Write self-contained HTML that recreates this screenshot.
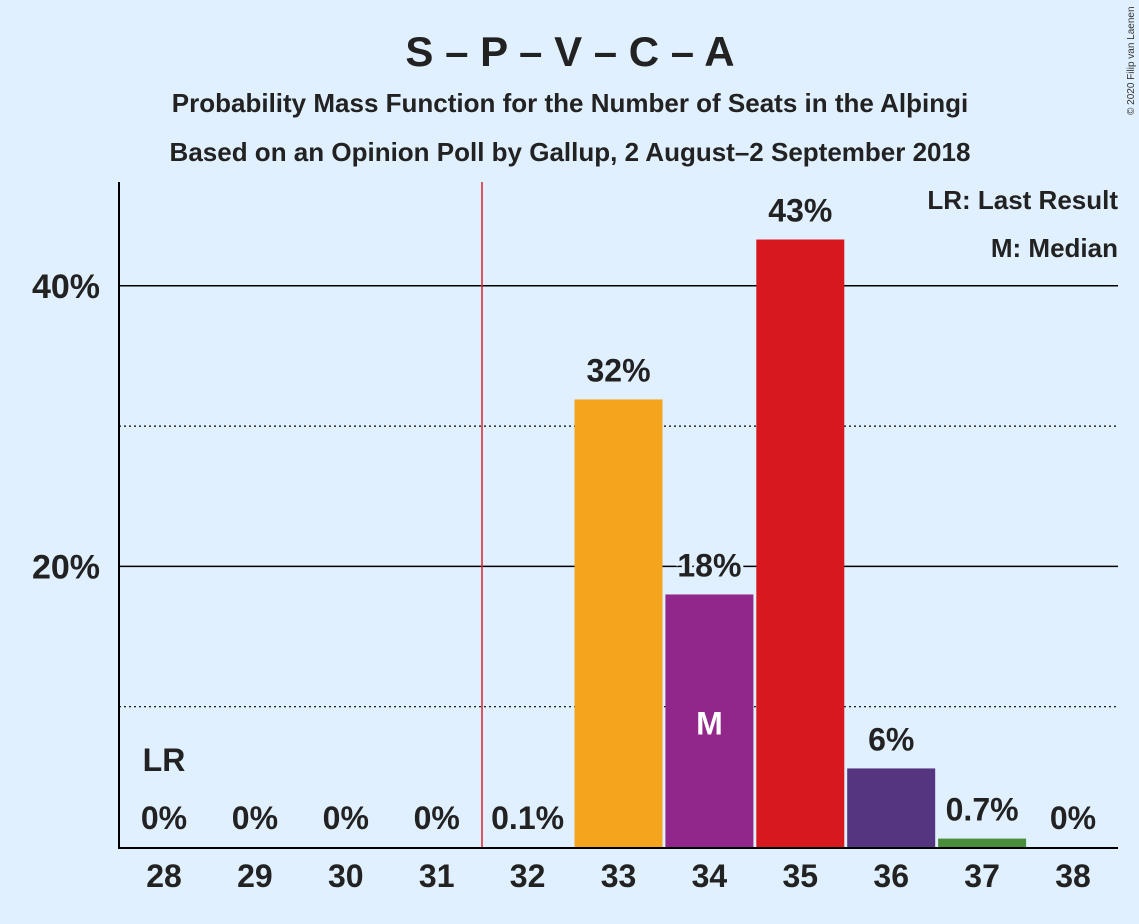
<!DOCTYPE html>
<html><head><meta charset="utf-8"><style>
html,body{margin:0;padding:0;background:#e1f0ff;}
svg{display:block;font-family:"Liberation Sans",sans-serif;}
</style></head><body>
<svg id="chart" width="1139" height="924">
<rect width="1139" height="924" fill="#e1f0ff"/>
<text x="570" y="66" text-anchor="middle" font-size="42" font-weight="bold" fill="#222">S – P – V – C – A</text>
<text x="570" y="112" text-anchor="middle" font-size="26" font-weight="bold" fill="#222">Probability Mass Function for the Number of Seats in the Alþingi</text>
<text x="570" y="161" text-anchor="middle" font-size="26" font-weight="bold" fill="#222">Based on an Opinion Poll by Gallup, 2 August–2 September 2018</text>
<text x="1134" y="115" font-size="10" fill="#333" transform="rotate(-90 1134 115)">© 2020 Filip van Laenen</text>
<g id="grid"></g>
<g id="bars"></g>
<line x1="119" y1="182" x2="119" y2="848" stroke="#000" stroke-width="2"/>
<line x1="118" y1="848" x2="1118" y2="848" stroke="#000" stroke-width="2"/>
<line x1="482" y1="182" x2="482" y2="847" stroke="#e0202a" stroke-width="1.5"/>
<text x="1118" y="209" text-anchor="end" font-size="26" font-weight="bold" fill="#222">LR: Last Result</text>
<text x="1118" y="257" text-anchor="end" font-size="26" font-weight="bold" fill="#222">M: Median</text>
<g id="labels"></g>
</svg>
<script>
const categories = [28,29,30,31,32,33,34,35,36,37,38];
const values = [0,0,0,0,0.1,31.9,18.0,43.3,5.6,0.6,0];
const valueLabels = ["0%","0%","0%","0%","0.1%","32%","18%","43%","6%","0.7%","0%"];
const colors = ["#f4a41d","#f4a41d","#f4a41d","#f4a41d","#f4a41d","#f4a41d","#91278a","#d7191f","#553480","#4a8e3b","#4a8e3b"];
const yTicks = [20,40];
const yDotted = [10,30];
const lastResult = 28;
const median = 34;

const NS="http://www.w3.org/2000/svg";
const x0=119,x1=1118,y0=847,pxPer=14.03;
const xCenter=i=>164+i*90.9;
const yScale=v=>y0-v*pxPer;
function mk(tag,attrs,parent){const e=document.createElementNS(NS,tag);for(const k in attrs)e.setAttribute(k,attrs[k]);parent.appendChild(e);return e;}
const grid=document.getElementById('grid'),bars=document.getElementById('bars'),labels=document.getElementById('labels');
yDotted.forEach(v=>{const l=mk('line',{x1:x0,x2:x1,y1:yScale(v),y2:yScale(v),stroke:'#000','stroke-width':1.2,'stroke-dasharray':'2,3'},grid);

});
yTicks.forEach(v=>{const l=mk('line',{x1:x0,x2:x1,y1:yScale(v),y2:yScale(v),stroke:'#000','stroke-width':1.5},grid);


const t=mk('text',{x:100,y:yScale(v)+12,'text-anchor':'end','font-size':34,'font-weight':'bold',fill:'#222'},grid);t.textContent=v+'%';

});
categories.forEach((c,i)=>{
 const cx=xCenter(i),v=values[i];
 if(v>0.3){const r=mk('rect',{x:cx-44,y:yScale(v),width:88,height:y0-yScale(v),fill:colors[i]},bars);
 
 }
 const t=mk('text',{x:cx,y:y0+40,'text-anchor':'middle','font-size':32,'font-weight':'bold',fill:'#222'},labels);t.textContent=c;
 
 
 const ly=v>0.3?yScale(v)-18:816;
 const vl=mk('text',{x:cx,y:ly+(v>0.3?0:13),'text-anchor':'middle','font-size':32,'font-weight':'bold',fill:'#222',stroke:'#e1f0ff','stroke-width':6,'paint-order':'stroke'},labels);vl.textContent=valueLabels[i];
 
 
 if(c===lastResult){const lr=mk('text',{x:cx,y:771,'text-anchor':'middle','font-size':32,'font-weight':'bold',fill:'#222'},labels);lr.textContent='LR';
 
 }
 if(c===median){const m=mk('text',{x:cx,y:(yScale(v)+y0)/2+14,'text-anchor':'middle','font-size':32,'font-weight':'bold',fill:'#fff'},labels);m.textContent='M';
 
 }
});
</script>
</body></html>
